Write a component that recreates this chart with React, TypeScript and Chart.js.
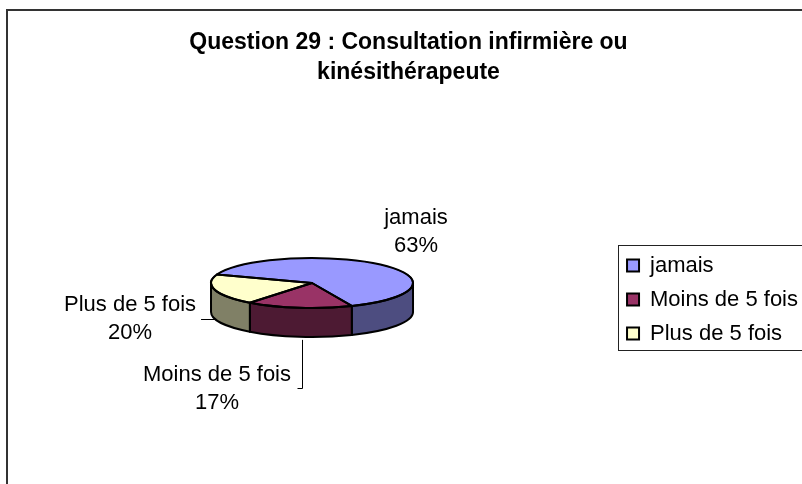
import React, { useEffect, useRef } from "react";
import { Chart, registerables } from "chart.js";

Chart.register(...registerables);

const TITLE_LINES = ["Question 29 : Consultation infirmière ou", "kinésithérapeute"];
const CATEGORIES = ["jamais", "Moins de 5 fois", "Plus de 5 fois"];
const VALUES = [63, 17, 20];
const TOP_COLORS = ["#9999FF", "#993366", "#FFFFCC"];
const SIDE_COLORS = ["#4D4D80", "#4D1A33", "#808066"];
// label block centres relative to the pie centre, and leader style
const LABEL_OFFSETS = [[104, -51.5], [-95, 105.5], [-182, 36]];
const LEADERS = ["none", "elbow", "horizontal"];

const FONT = "'Liberation Sans', Arial, Helvetica, sans-serif";

const pie3d = {
  id: "pie3d",
  beforeDraw(chart: any) {
    const ctx = chart.ctx;
    ctx.save();
    ctx.strokeStyle = "#333";
    ctx.lineWidth = 2;
    ctx.strokeRect(7, 10, 900, 900);
    ctx.restore();
  },
  beforeDatasetsDraw(chart: any, _args: any, opts: any) {
    const arc = chart.getDatasetMeta(0).data[0];
    const ctx = chart.ctx;
    ctx.save();
    ctx.translate(arc.x, arc.y + opts.offsetY);
    ctx.scale(1, opts.ratio);
    ctx.translate(-arc.x, -arc.y);
  },
  afterDatasetsDraw(chart: any, _args: any, opts: any) {
    const ctx = chart.ctx;
    ctx.restore();
    const arcs = chart.getDatasetMeta(0).data;
    const cx = arcs[0].x;
    const cy = arcs[0].y + opts.offsetY;
    const rx = arcs[0].outerRadius;
    const ry = rx * opts.ratio;
    const depth = opts.depth;
    const PI = Math.PI;
    ctx.save();
    ctx.lineJoin = "round";
    ctx.lineWidth = 2;
    ctx.strokeStyle = "#000";
    // side walls
    arcs.forEach((a: any, i: number) => {
      for (let k = -1; k <= 1; k++) {
        const lo = Math.max(a.startAngle, k * 2 * PI);
        const hi = Math.min(a.endAngle, k * 2 * PI + PI);
        if (hi - lo > 1e-4) {
          ctx.beginPath();
          ctx.ellipse(cx, cy, rx, ry, 0, lo, hi, false);
          ctx.lineTo(cx + rx * Math.cos(hi), cy + depth + ry * Math.sin(hi));
          ctx.ellipse(cx, cy + depth, rx, ry, 0, hi, lo, true);
          ctx.closePath();
          ctx.fillStyle = opts.sideColors[i];
          ctx.fill();
          ctx.stroke();
        }
      }
    });
    // top outlines
    arcs.forEach((a: any) => {
      ctx.beginPath();
      ctx.moveTo(cx, cy);
      ctx.ellipse(cx, cy, rx, ry, 0, a.startAngle, a.endAngle, false);
      ctx.closePath();
      ctx.stroke();
    });
    ctx.restore();

    // data labels
    const data = chart.data.datasets[0].data as number[];
    const total = data.reduce((s, v) => s + v, 0);
    ctx.save();
    ctx.font = `22px ${FONT}`;
    ctx.fillStyle = "#000";
    ctx.textAlign = "center";
    ctx.textBaseline = "middle";
    ctx.strokeStyle = "#000";
    ctx.lineWidth = 1;
    arcs.forEach((a: any, i: number) => {
      const lines = [String(chart.data.labels[i]), Math.round((data[i] / total) * 100) + "%"];
      const lx = cx + opts.labelOffsets[i][0];
      const ly = cy + opts.labelOffsets[i][1];
      const lh = 28;
      lines.forEach((t, j) => ctx.fillText(t, lx, ly - lh / 2 + j * lh));
      const w = Math.max(...lines.map((t) => ctx.measureText(t).width));
      const right = lx + w / 2;
      const mid = (a.startAngle + a.endAngle) / 2;
      if (opts.leaders[i] === "horizontal") {
        const px = cx + rx * Math.cos(mid);
        const y = Math.round(ly) + 0.5;
        ctx.beginPath();
        ctx.moveTo(right + 5, y);
        ctx.lineTo(px, y);
        ctx.stroke();
      } else if (opts.leaders[i] === "elbow") {
        const x0 = Math.round(right + 6) + 0.5;
        const x1 = x0 + 5;
        const y = Math.round(ly - 1) + 0.5;
        const dx = (x1 - cx) / rx;
        const rimY = cy + depth + ry * Math.sqrt(Math.max(0, 1 - dx * dx));
        ctx.beginPath();
        ctx.moveTo(x0, y);
        ctx.lineTo(x1, y);
        ctx.lineTo(x1, rimY + 3);
        ctx.stroke();
      }
    });
    ctx.restore();
  },
  afterDraw(chart: any) {
    const lg = chart.legend;
    if (!lg || !lg.legendHitBoxes || !lg.legendHitBoxes.length) return;
    const hb = lg.legendHitBoxes;
    const first = hb[0];
    const last = hb[hb.length - 1];
    const ctx = chart.ctx;
    const left = Math.round(first.left - 9) + 0.5;
    const top = Math.round(first.top - 10) + 0.5;
    const bottom = Math.round(last.top + last.height + 5) + 0.5;
    ctx.save();
    ctx.strokeStyle = "#222";
    ctx.lineWidth = 1;
    ctx.strokeRect(left, top, 900, bottom - top);
    ctx.restore();
  },
};

export default function App() {
  const ref = useRef<HTMLCanvasElement | null>(null);
  useEffect(() => {
    if (!ref.current) return;
    const chart = new Chart(ref.current, {
      type: "doughnut",
      data: {
        labels: CATEGORIES,
        datasets: [
          {
            data: VALUES,
            backgroundColor: TOP_COLORS,
            borderColor: "#000",
            borderWidth: 2,
          },
        ],
      },
      options: {
        animation: false,
        responsive: true,
        maintainAspectRatio: false,
        events: [],
        cutout: 0,
        radius: 101,
        rotation: -70,
        layout: { padding: { left: 9, right: -6, top: 0, bottom: 0 } },
        plugins: {
          tooltip: { enabled: false },
          title: {
            display: true,
            text: TITLE_LINES,
            color: "#000",
            font: { family: FONT, size: 23, weight: "bold", lineHeight: 30 / 23 },
            padding: { top: 28, bottom: 27 },
          },
          legend: {
            position: "right",
            fullSize: false,
            labels: {
              color: "#000",
              font: { family: FONT, size: 22 },
              boxWidth: 12,
              boxHeight: 12,
              padding: 12,
            },
          },
          pie3d: {
            ratio: 25 / 101,
            depth: 29,
            offsetY: -16.5,
            sideColors: SIDE_COLORS,
            labelOffsets: LABEL_OFFSETS,
            leaders: LEADERS,
          },
        } as any,
      } as any,
      plugins: [pie3d],
    });
    return () => chart.destroy();
  }, []);
  return (
    <div style={{ position: "fixed", left: 0, top: 0, width: 802, height: 484, background: "#fff" }}>
      <canvas ref={ref} />
    </div>
  );
}
